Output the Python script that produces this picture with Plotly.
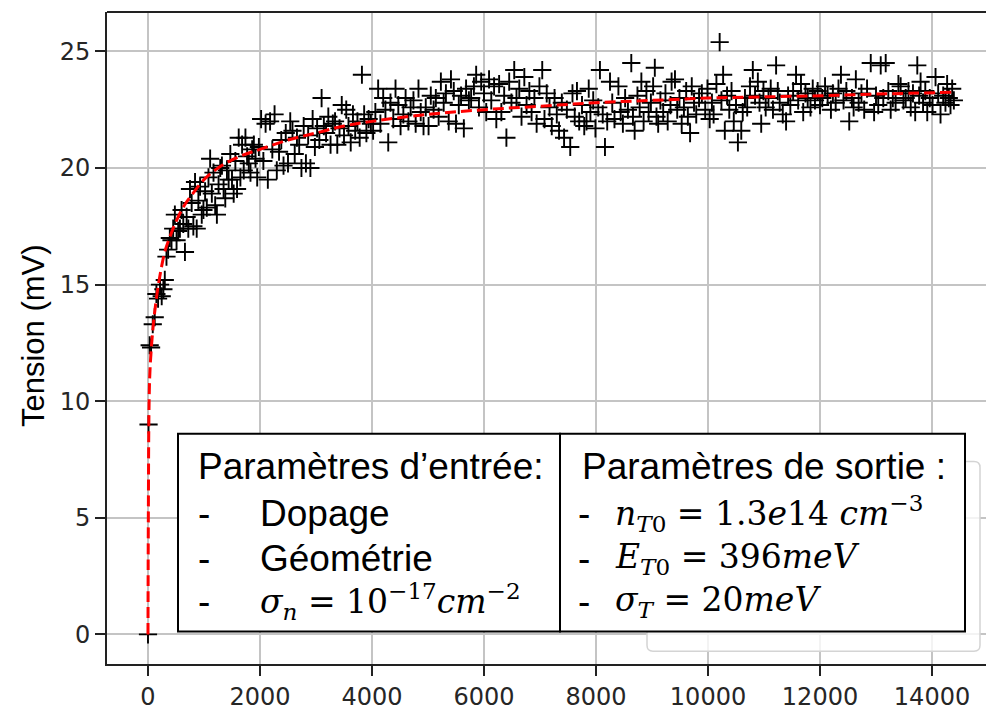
import plotly.graph_objects as go

# ---------------- data ----------------
x_early = [0, 10, 30, 55, 85, 120, 150, 180, 215, 245, 275, 300, 330, 360, 390, 420, 450, 480,
           510, 540, 570, 600, 630, 660, 690, 720, 750, 780, 810, 840, 870, 900, 930, 960, 990,
           1020, 1050, 1080, 1110, 1140, 1170, 1200, 1230, 1260, 1290, 1320, 1350, 1380, 1410,
           1440, 1470, 1500, 1530, 1560, 1590, 1620, 1650, 1680, 1710, 1740, 1770, 1800, 1830,
           1860, 1890, 1920, 1950, 1980]
y_early = [0, 9.0, 12.4, 12.3, 13.3, 13.6, 14.6, 14.4, 15.0, 14.5, 14.8, 15.2, 16.2, 16.5, 17.0,
           16.9, 17.4, 18.0, 16.9, 17.3, 17.4, 18.2, 17.6, 16.4, 17.9, 17.4, 19.1, 18.5, 17.5,
           19.4, 17.4, 18.6, 19.2, 18.0, 18.2,
           19.0, 18.3, 19.6, 20.4, 18.9, 19.8, 18.4, 18.0, 19.3, 20.0, 20.1, 19.1, 18.7, 19.9,
           19.5, 20.6, 19.5, 18.9, 20.3, 19.1, 21.3, 19.6, 21.0, 19.9, 21.3, 20.5, 20.2, 19.8,
           20.8, 21.0, 20.4, 19.6, 20.9]

x_mid = [2020, 2060, 2100, 2140, 2180, 2220, 2260, 2300, 2340, 2380, 2420, 2460, 2500, 2540,
         2580, 2620, 2660, 2700, 2740, 2780, 2820, 2860, 2900, 2940, 2980, 3020, 3060, 3100,
         3140, 3180, 3220, 3260, 3300, 3340, 3380, 3420, 3460, 3500, 3540, 3580, 3620, 3660,
         3700, 3740, 3780, 3820, 3860, 3900, 3940, 3980,
         4020, 4060, 4110, 4150, 4200, 4240, 4290, 4330, 4380, 4420, 4470, 4510, 4560, 4600,
         4650, 4690, 4740, 4780, 4830, 4870, 4920, 4960, 5010, 5050, 5100, 5140, 5190, 5230,
         5280, 5320, 5370, 5410, 5460, 5500, 5550, 5590, 5640, 5680, 5730, 5770, 5820, 5860,
         5910, 5950, 6000, 6040, 6090, 6130, 6180, 6220, 6270, 6310, 6360, 6400, 6450, 6490,
         6540, 6580, 6630, 6670, 6720, 6760, 6810, 6850, 6900, 6940, 6990]
y_mid = [22.1, 20.3, 21.9, 19.5, 22.0, 20.8, 22.3, 19.9, 20.7, 21.2, 20.1, 21.5, 20.2, 22.0,
         21.6, 20.6, 21.3, 21.0, 20.0, 21.8, 20.2, 21.4, 20.0, 22.1, 20.9, 21.7, 21.2, 23.0,
         21.8, 21.5, 22.2, 21.0, 21.9, 22.0, 21.0, 21.7, 22.7, 21.4, 22.5, 21.8, 21.1, 22.3,
         21.6, 22.0, 21.3, 24.0, 22.3, 21.5, 22.1, 21.9,
         21.6, 22.4, 23.4, 21.9, 23.0, 22.5, 21.1, 22.8, 22.1, 23.4, 22.7, 21.8, 22.3, 23.0,
         22.0, 22.6, 22.9, 21.9, 23.4, 22.4, 21.8, 22.6, 21.8, 23.1, 22.5, 23.0, 22.2, 23.7,
         22.8, 23.2, 22.0, 23.8, 23.3, 21.9, 22.7, 23.1, 21.7, 23.4, 22.9, 23.0, 23.5, 24.0,
         22.6, 23.7, 23.2, 22.4, 23.8, 22.9, 23.5, 22.1, 23.6, 22.4, 23.1, 21.3, 23.7, 22.8,
         24.2, 23.0, 23.4, 22.2, 23.9, 22.7, 23.3, 22.4, 23.0, 21.9, 23.5]

x_late = [7040, 7080, 7120, 7170, 7210, 7260, 7300, 7340, 7390, 7430, 7480, 7540, 7580, 7620,
          7660, 7700, 7750, 7790, 7830, 7870, 7900, 7950, 7990, 8040, 8070, 8120, 8160, 8200,
          8250, 8290, 8330, 8400, 8440, 8480, 8520, 8570, 8630, 8660, 8690, 8740, 8780, 8810,
          8850, 8900, 8940, 8980, 9020, 9050, 9080, 9110, 9150, 9200, 9240, 9280, 9330, 9350,
          9410, 9450, 9490, 9530, 9570, 9610, 9640, 9680, 9710, 9750, 9790, 9840, 9890, 9950,
          9990, 10030, 10070, 10100, 10150, 10208, 10240, 10270, 10300, 10340, 10380, 10420,
          10460, 10500, 10534, 10594, 10620, 10660, 10700, 10750, 10800, 10840, 10890, 10920,
          10950, 10990, 11030, 11080, 11120, 11160, 11216, 11246, 11280, 11335, 11394, 11430,
          11470, 11520, 11572, 11610, 11660, 11700, 11740, 11780, 11830, 11870, 11910, 11958,
          12000, 12040, 12090, 12136, 12195, 12230, 12280, 12330, 12374, 12420, 12470, 12522,
          12570, 12600, 12640, 12690, 12740, 12789, 12840, 12906, 12966, 13000, 13040, 13084,
          13130, 13173, 13220, 13262, 13300, 13350, 13400, 13440, 13490, 13530, 13580, 13620,
          13660, 13700, 13737, 13770, 13796, 13840, 13880, 13915, 13960, 14010, 14063, 14110,
          14152, 14200, 14240, 14270, 14300, 14330, 14360, 14390]
y_late = [24.2, 22.1, 23.2, 22.6, 21.8, 23.0, 22.3, 21.6, 22.8, 21.3, 22.5, 20.9, 23.2, 22.2,
          23.3, 22.0, 22.7, 21.8, 22.0, 23.4, 22.4, 22.9, 21.7, 22.6, 24.2, 22.3, 20.9, 22.0,
          23.7, 22.8, 22.1, 23.5, 22.4, 21.9, 23.0, 22.5, 24.5, 22.2, 21.6, 23.1, 22.6, 23.7,
          22.0, 23.3, 22.4, 22.8, 23.5, 24.3, 22.2, 21.9, 22.9, 22.4, 23.2, 22.0, 22.7, 23.7,
          23.8, 22.5, 23.0, 21.9, 22.6, 23.3, 22.2, 21.5, 23.5, 22.8, 22.3, 23.0, 23.2, 22.5,
          23.4, 22.1, 22.8, 22.3, 23.6, 25.4, 22.9, 24.0, 21.6, 23.1, 22.5, 23.3,
          22.0, 22.7, 21.1, 21.6, 22.4, 23.0, 22.6, 23.5, 24.2, 23.1, 23.7, 22.8,
          21.9, 23.3, 22.6, 23.0, 23.4, 22.5, 24.4, 23.3, 22.8, 22.3, 22.0, 23.1,
          22.7, 23.3, 24.0, 22.9, 23.6, 22.4, 23.2, 23.0, 22.6, 23.4, 22.9, 23.3,
          22.7, 23.0, 23.5, 23.1, 22.5, 23.2, 22.8, 23.4, 24.0, 22.9, 23.3, 22.0,
          23.0, 22.6, 23.8, 22.8, 23.2, 22.5, 23.4, 24.5, 22.4, 23.1, 22.7, 24.4,
          23.0, 24.5, 23.3, 22.5, 23.0, 22.8, 23.6, 23.5, 22.9, 23.0, 23.3, 22.6,
          23.2, 22.4, 24.4, 23.1, 23.7, 22.8, 23.3, 22.4, 23.0, 22.7, 23.9, 23.2,
          22.3, 23.1, 22.8, 23.6, 23.0, 22.7, 23.4, 22.9]

x_meas = x_early + x_mid + x_late
y_meas = y_early + y_mid + y_late

# fitted model curve
x_fit = [0, 3, 8, 15, 30, 60, 100, 150, 200, 300, 400, 500, 650, 800, 1000, 1250, 1500, 1750,
         2000, 2500, 3000, 3500, 4000, 5000, 6000, 7000, 8000, 9000, 10000, 11000, 12000,
         13000, 14400]
y_fit = [0, 3.0, 6.0, 9.0, 11.0, 12.3, 13.4, 14.4, 15.2, 16.4, 17.1, 17.7, 18.4, 18.9, 19.5,
         20.0, 20.35, 20.6, 20.8, 21.2, 21.5, 21.8, 22.0, 22.3, 22.5, 22.65, 22.8, 22.9, 23.0,
         23.05, 23.1, 23.17, 23.25]

x_ticks = [0, 2000, 4000, 6000, 8000, 10000, 12000, 14000]
x_ticklabels = ["0", "2000", "4000", "6000", "8000", "10000", "12000", "14000"]
y_ticks = [0, 5, 10, 15, 20, 25]
y_ticklabels = ["0", "5", "10", "15", "20", "25"]

y_title = "Tension (mV)"
left_title = "Paramètres d’entrée:"
left_items = ["Dopage", "Géométrie",
              "<i>σ</i><sub><i>n</i></sub> = 10<sup>−17</sup><i>cm</i><sup>−2</sup>"]
right_title = "Paramètres de sortie :"
right_items = ["<i>n</i><sub><i>T</i>0</sub> = 1.3<i>e</i>14 <i>cm</i><sup>−3</sup>",
               "<i>E</i><sub><i>T</i>0</sub> = 396<i>meV</i>",
               "<i>σ</i><sub><i>T</i></sub> = 20<i>meV</i>"]

# ---------------- layout geometry ----------------
W, H = 986, 711
L, T, B = 107, 12, 39
PW, PH = W - L, H - T - B


def px(xp):
    return (xp - L) / PW


def py(yp):
    return (H - B - yp) / PH


fig = go.Figure()
fig.add_trace(go.Scatter(
    x=x_meas, y=y_meas, mode="markers", name="mesure",
    marker=dict(symbol="cross-thin", size=13, color="black",
                line=dict(color="black", width=1.9)),
    showlegend=False))
fig.add_trace(go.Scatter(
    x=x_fit, y=y_fit, mode="lines", name="modèle", line_shape="spline",
    line=dict(color="#ff0000", width=3, dash="11px,5px"), showlegend=False))

axis_common = dict(
    showgrid=True, gridcolor="#c4c4c4", gridwidth=1.5, zeroline=False,
    showline=True, linecolor="#222222", linewidth=2,
    ticks="outside", ticklen=10, tickwidth=1.5, tickcolor="#222222",
    tickfont=dict(family="DejaVu Sans", size=24, color="#262626"),
)
fig.update_xaxes(range=[-732, 14964], tickvals=x_ticks, ticktext=x_ticklabels, **axis_common)
fig.update_yaxes(range=[-1.27, 26.69], tickvals=y_ticks, ticktext=y_ticklabels, **axis_common)

shapes = []
# top spine
shapes.append(dict(type="line", xref="paper", yref="paper", x0=0, x1=1, y0=1, y1=1,
                   line=dict(color="#222222", width=2), layer="above"))
# legend frame (mostly hidden behind the table)
lx0, lx1, ly0, ly1 = 647, 980, 467, 659
rad = 6
path = (f"M {px(lx0 + rad)} {py(ly0)} L {px(lx1 - rad)} {py(ly0)} "
        f"Q {px(lx1)} {py(ly0)} {px(lx1)} {py(ly0 + rad)} "
        f"L {px(lx1)} {py(ly1 - rad)} Q {px(lx1)} {py(ly1)} {px(lx1 - rad)} {py(ly1)} "
        f"L {px(lx0 + rad)} {py(ly1)} Q {px(lx0)} {py(ly1)} {px(lx0)} {py(ly1 - rad)} "
        f"L {px(lx0)} {py(ly0 + rad)} Q {px(lx0)} {py(ly0)} {px(lx0 + rad)} {py(ly0)} Z")
shapes.append(dict(type="path", xref="paper", yref="paper", path=path,
                   fillcolor="rgba(255,255,255,0.8)",
                   line=dict(color="#d4d4d4", width=1.5), layer="above"))
# table boxes
shapes.append(dict(type="rect", xref="paper", yref="paper",
                   x0=px(178), x1=px(560), y0=py(639), y1=py(439),
                   fillcolor="white", line=dict(color="black", width=2), layer="above"))
shapes.append(dict(type="rect", xref="paper", yref="paper",
                   x0=px(560), x1=px(965), y0=py(639), y1=py(439),
                   fillcolor="white", line=dict(color="black", width=2), layer="above"))

annotations = []
sans = dict(family="Liberation Sans", size=37, color="black")
serif = dict(family="DejaVu Serif", size=33, color="black")
row_y = [472, 520, 565, 609]


def add_text(xp, yp, text, font):
    annotations.append(dict(xref="paper", yref="paper", x=px(xp), y=py(yp), text=text,
                            showarrow=False, xanchor="left", yanchor="middle", font=font))


add_text(196, row_y[0], left_title, sans)
add_text(196, row_y[1], "-", sans)
add_text(196, row_y[2], "-", sans)
add_text(196, row_y[3], "-", sans)
add_text(258, row_y[1], left_items[0], sans)
add_text(258, row_y[2], left_items[1], sans)
add_text(258, row_y[3], left_items[2], serif)

add_text(580, row_y[0], right_title, sans)
for i in range(3):
    add_text(576, row_y[i + 1], "-", sans)
    add_text(613, row_y[i + 1], right_items[i], serif)

# y axis title
annotations.append(dict(xref="paper", yref="paper", x=px(33), y=py(340), text=y_title,
                        showarrow=False, textangle=-90, xanchor="center", yanchor="middle",
                        font=dict(family="Liberation Sans", size=31, color="black")))

fig.update_layout(
    width=W, height=H, margin=dict(l=L, r=0, t=T, b=B, pad=0),
    paper_bgcolor="white", plot_bgcolor="white",
    shapes=shapes, annotations=annotations, showlegend=False,
)

fig.write_html("out.html")
